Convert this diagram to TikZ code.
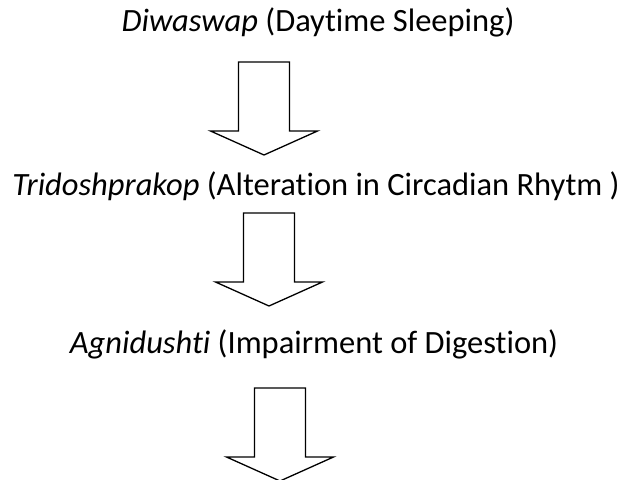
\documentclass[tikz,border=0pt]{standalone}
\usepackage{fontspec}
\setmainfont{Carlito}[Ligatures=NoCommon]
\usepackage{tikz}
\usetikzlibrary{positioning}

\tikzset{
  stage/.style={anchor=base, inner sep=0pt, font=\fontsize{32.5}{38}\selectfont},
  blockarrow/.pic={
    \draw[line width=1.3pt, line join=miter]
      (-25.5,0) -- (25.5,0) -- (25.5,69) -- (53.5,69) -- (0,93)
      -- (-53.5,69) -- (-25.5,69) -- cycle;
  }
}

\begin{document}
\begin{tikzpicture}[x=1pt, y=-1pt]
  \useasboundingbox (0,0) rectangle (626,479);
  % the three stages
  \node[stage] (diwaswap) at (318,31) {\textit{Diwaswap} (Daytime Sleeping)};
  \node[stage] (tridosh) at (316,195) {\textit{Tridoshprakop} (Alteration in Circadian Rhytm )};
  \node[stage] (agni) at (314,353) {\textit{Agnidushti} (Impairment of Digestion)};
  % hollow arrows between them
  \pic at (264,62) {blockarrow};
  \pic at (269,213) {blockarrow};
  \pic at (280,388) {blockarrow};
\end{tikzpicture}
\end{document}
